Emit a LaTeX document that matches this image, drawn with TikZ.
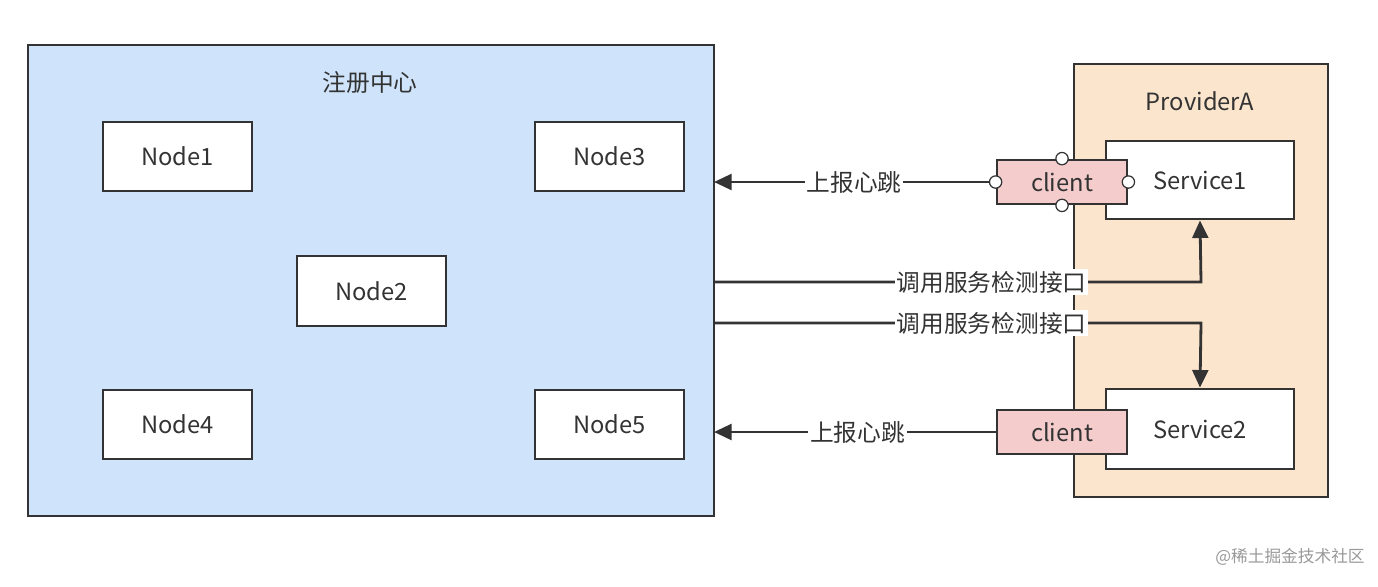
\documentclass[tikz,border=0pt]{standalone}
\usepackage{fontspec}
\setmainfont{Noto Sans CJK SC}
\usetikzlibrary{arrows.meta}
\definecolor{blu}{HTML}{CFE4FA}
\definecolor{org}{HTML}{FCE5CD}
\definecolor{pnk}{HTML}{F4CCCC}
\definecolor{ln}{HTML}{333333}
\begin{document}
\begin{tikzpicture}[x=0.02cm,y=-0.02cm,
 txt/.style={font=\fontsize{13.5}{15}\selectfont,text=ln},
 box/.style={draw=ln,line width=1.6pt,fill=white,txt},
 lab/.style={fill=white,inner sep=1pt,txt},
 con/.style={draw=ln,line width=1.6pt},
 arr/.style={con,-{Triangle[length=10pt,width=9pt]}},
 dot/.style={circle,draw=ln,fill=white,line width=0.7pt,inner sep=0pt,minimum size=7pt}]
\useasboundingbox (0,0) rectangle (1378,586);
\draw[line width=1.6pt,draw=ln,fill=blu] (28,45) rectangle (714,516);
\node[txt] (title) at (370,83) {注册中心};
\node[box,minimum width=2.98cm,minimum height=1.38cm] (n1) at (177.5,156.5) {Node1};
\node[box,minimum width=2.98cm,minimum height=1.38cm] (n3) at (609.5,156.5) {Node3};
\node[box,minimum width=2.98cm,minimum height=1.4cm] (n2) at (371.5,291) {Node2};
\node[box,minimum width=2.98cm,minimum height=1.38cm] (n4) at (177.5,424.5) {Node4};
\node[box,minimum width=2.98cm,minimum height=1.38cm] (n5) at (609.5,424.5) {Node5};
\draw[line width=1.6pt,draw=ln,fill=org] (1074,64) rectangle (1328,497);
\node[txt] (pa) at (1200,101) {ProviderA};
\node[box,minimum width=3.76cm,minimum height=1.56cm] (s1) at (1200,180) {Service1};
\node[box,minimum width=3.76cm,minimum height=1.6cm] (s2) at (1200,429) {Service2};
\node[box,fill=pnk,minimum width=2.6cm,minimum height=0.88cm] (c1) at (1062,182) {client};
\node[box,fill=pnk,minimum width=2.6cm,minimum height=0.88cm] (c2) at (1062,432) {client};
\node[dot] (d1) at (c1.north) {};
\node[dot] (d2) at (c1.south) {};
\node[dot] (d3) at (c1.west) {};
\node[dot] (d4) at (c1.east) {};
\coordinate (e1) at (714,182);
\coordinate (e2) at (714,432);
\coordinate (e3) at (714,282);
\coordinate (e4) at (714,323);
\draw[arr] (d3) -- node[lab,pos=0.49] (h1) {上报心跳} (e1);
\draw[arr] (c2.west) -- node[lab,pos=0.49] (h2) {上报心跳} (e2);
\draw[arr] (e3) -- node[lab,pos=0.57] (t1) {调用服务检测接口} (1201,282) -- (s1.south);
\draw[arr] (e4) -- node[lab,pos=0.57] (t2) {调用服务检测接口} (1201,323) -- (s2.north);
\node[font=\fontsize{9.5}{11}\selectfont,text=gray!80] (wm) at (1290,557) {@稀土掘金技术社区};
\end{tikzpicture}
\end{document}
